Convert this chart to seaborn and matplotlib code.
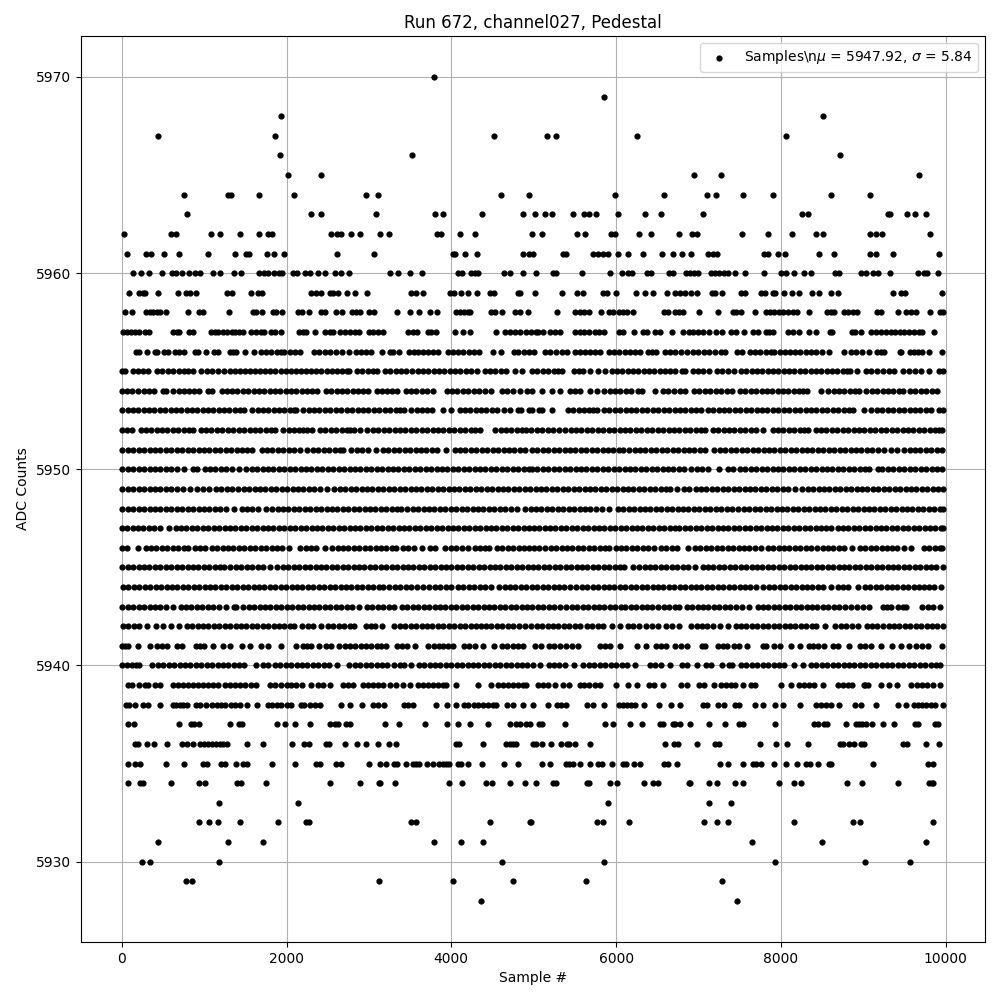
import pandas as pd
import seaborn as sns
from matplotlib import pyplot as plt

# x positions (sample #), one list per ADC level
s5970 = [3790]
s5969 = [5850]
s5968 = [1935, 8505]
s5967 = [444, 1862, 4517, 5160, 5273, 6250, 8056]
s5966 = [1923, 3523, 8723]
s5965 = [2020, 2420, 6941, 7269, 9680]
s5964 = [760, 1293, 1321, 1669, 2093, 2965, 3111, 4602, 4941, 5984, 6578, 7099, 7208, 7535, 7899, 8614, 9087]
s5963 = [796, 2299, 2420, 3087, 3802, 3899, 4371, 4868, 5014, 5135, 5220, 5475, 5616, 5669, 5754, 6020, 6347,
         6541, 7050, 8262, 8327, 9305, 9321, 9535, 9624, 9765]
s5962 = [32, 598, 654, 1087, 1196, 1438, 1669, 1778, 1830, 2541, 2618, 2666, 2784, 2893, 3135, 3244, 3826, 3874,
         4105, 4290, 4977, 5095, 5523, 5620, 5939, 5992, 6275, 6420, 6760, 6917, 6978, 7523, 7838, 8129, 8420,
         8517, 9087, 9160, 9224, 9814]
s5961 = [61, 299, 360, 517, 699, 1050, 1378, 1507, 1547, 1761, 1850, 1972, 2614, 3062, 4020, 4045, 4169, 4311,
         4868, 4949, 4990, 5354, 5386, 5717, 5778, 5838, 5899, 6020, 6141, 6323, 6553, 6687, 6796, 6913, 7119,
         7172, 7224, 7798, 7838, 7959, 8044, 8468, 8650, 9087, 9160, 9366, 9923]
s5960 = [141, 238, 335, 493, 606, 659, 727, 820, 885, 953, 1111, 1196, 1366, 1450, 1669, 1725, 1778, 1854, 1907,
         1951, 2081, 2129, 2226, 2283, 2384, 2468, 2590, 2662, 2759, 3256, 3357, 3499, 3644, 4080, 4129, 4242,
         4290, 4323, 4638, 4711, 4868, 5030, 5232, 5265, 5584, 5923, 6069, 6141, 6190, 6372, 6424, 6638, 6695,
         6848, 6897, 6949, 6994, 7147, 7204, 7244, 7313, 7361, 7438, 7559, 7790, 7996, 8056, 8153, 8283, 8363,
         8658, 8707, 8973, 9038, 9123, 9180, 9329, 9668, 9737, 9777, 9911]
s5959 = [93, 214, 263, 287, 444, 687, 780, 828, 905, 1281, 1333, 1572, 1652, 1701, 2299, 2355, 2420, 2525, 2565,
         2626, 2735, 2832, 2977, 3511, 3575, 3656, 3979, 4028, 4117, 4202, 4311, 4464, 4513, 4808, 4837, 5010,
         5349, 5523, 5600, 5838, 5891, 5996, 6238, 6347, 6444, 6614, 6711, 6775, 6836, 6913, 6986, 7159, 7200,
         7281, 7515, 7567, 7753, 7810, 7899, 7931, 8032, 8129, 8214, 8383, 8464, 8602, 8687, 9357, 9454, 9503, 9959]
s5958 = [44, 129, 295, 343, 384, 424, 465, 533, 808, 941, 982, 1305, 1596, 1628, 1705, 1838, 1870, 1947, 2145,
         2194, 2275, 2416, 2473, 2606, 2670, 2792, 2840, 2889, 3002, 3058, 3341, 3503, 3608, 3737, 3826, 4052,
         4101, 4149, 4198, 4230, 4484, 4533, 4614, 4771, 4828, 4929, 5281, 5507, 5556, 5616, 5669, 5814, 5911,
         5960, 6032, 6081, 6129, 6202, 6586, 6626, 6711, 6768, 6816, 7002, 7240, 7414, 7455, 7519, 7681, 7818,
         7867, 7919, 7972, 8020, 8081, 8141, 8190, 8347, 8557, 8606, 8646, 8768, 8820, 8869, 8929, 9172, 9212,
         9426, 9515, 9584, 9644, 9814, 9927, 9971]
s5957 = [12, 61, 109, 162, 214, 283, 335, 618, 675, 699, 820, 861, 1079, 1131, 1172, 1224, 1273, 1333, 1374, 1426,
         1466, 1572, 1628, 1685, 1729, 1814, 1866, 1935, 2153, 2202, 2242, 2347, 2468, 2525, 2565, 2654, 2707,
         2767, 2828, 2881, 3002, 3050, 3111, 3171, 3474, 3535, 3583, 3717, 3757, 3814, 4044, 4141, 4230, 4537,
         4650, 4707, 4767, 4828, 4901, 4973, 5030, 5051, 5112, 5200, 5253, 5322, 5503, 5556, 5616, 5677, 5738,
         5798, 5859, 6040, 6089, 6214, 6331, 6372, 6473, 6533, 6675, 6816, 6881, 6937, 6990, 7050, 7123, 7212,
         7285, 7398, 7454, 7548, 7657, 7717, 7818, 7859, 7899, 8081, 8141, 8214, 8343, 8424, 8598, 8618, 8861,
         8901, 8978, 9099, 9152, 9212, 9273, 9333, 9382, 9442, 9495, 9556, 9616, 9677, 9717, 9863]
s5956 = [170, 214, 311, 400, 428, 517, 565, 646, 700, 760, 885, 921, 1018, 1119, 1172, 1309, 1350, 1386, 1499, 1602,
         1693, 1755, 1815, 1880, 1935, 1972, 2048, 2105, 2162, 2339, 2400, 2465, 2530, 2600, 2679, 2753, 2844, 2905,
         2965, 3022, 3155, 3252, 3296, 3365, 3483, 3545, 3600, 3660, 3720, 3780, 3838, 3955, 4020, 4085, 4145, 4210,
         4270, 4335, 4509, 4598, 4755, 4815, 4880, 4940, 5002, 5140, 5200, 5265, 5340, 5407, 5503, 5565, 5625, 5685,
         5745, 5803, 5915, 5975, 6040, 6105, 6170, 6235, 6295, 6392, 6430, 6489, 6594, 6655, 6720, 6790, 6860, 6930,
         7000, 7065, 7124, 7204, 7273, 7317, 7471, 7529, 7624, 7690, 7750, 7820, 7880, 7911, 7988, 8050, 8110, 8175,
         8235, 8300, 8365, 8430, 8495, 8578, 8760, 8848, 8910, 8982, 9071, 9172, 9215, 9257, 9440, 9458, 9564, 9620,
         9660, 9717, 9798, 9960]
s5955 = [0, 40, 137, 200, 260, 323, 432, 495, 560, 625, 690, 755, 800, 860, 957, 1030, 1100, 1163, 1236, 1309, 1370,
         1432, 1494, 1556, 1618, 1680, 1742, 1804, 1866, 1928, 1990, 2052, 2114, 2176, 2238, 2300, 2362, 2424, 2486,
         2548, 2610, 2672, 2734, 2759, 2856, 2920, 2985, 3045, 3103, 3192, 3260, 3325, 3390, 3455, 3520, 3590, 3655,
         3720, 3785, 3850, 3915, 3980, 4045, 4110, 4175, 4240, 4307, 4404, 4470, 4530, 4600, 4658, 4775, 4860, 4978,
         5045, 5110, 5175, 5245, 5300, 5346, 5495, 5550, 5601, 5685, 5778, 5863, 5947, 6010, 6075, 6140, 6205, 6270,
         6335, 6400, 6465, 6530, 6595, 6660, 6720, 6804, 6841, 6933, 7000, 7060, 7124, 7220, 7290, 7360, 7435, 7515,
         7580, 7645, 7710, 7775, 7840, 7905, 7970, 8035, 8100, 8165, 8230, 8295, 8360, 8425, 8490, 8555, 8620, 8685,
         8750, 8800, 8841, 8921, 9038, 9099, 9170, 9240, 9310, 9378, 9483, 9550, 9625, 9697, 9802, 9915, 9964]
s5954 = [0, 65, 130, 200, 265, 330, 396, 501, 537, 626, 690, 750, 815, 880, 941, 1050, 1091, 1212, 1275, 1340, 1405,
         1470, 1535, 1600, 1665, 1730, 1795, 1860, 1925, 1990, 2055, 2120, 2185, 2250, 2315, 2375, 2481, 2545, 2610,
         2675, 2740, 2805, 2870, 2930, 2990, 3103, 3165, 3225, 3285, 3345, 3450, 3510, 3575, 3640, 3700, 3777, 3947,
         4010, 4075, 4140, 4205, 4270, 4340, 4410, 4476, 4614, 4680, 4751, 4836, 4913, 4982, 5100, 5221, 5322, 5443,
         5500, 5560, 5685, 5770, 5855, 5920, 5985, 6050, 6115, 6180, 6263, 6316, 6473, 6566, 6635, 6705, 6775, 6841,
         6946, 7012, 7078, 7144, 7210, 7276, 7340, 7406, 7503, 7570, 7635, 7700, 7765, 7830, 7895, 7960, 8025, 8090,
         8155, 8220, 8270, 8315, 8485, 8574, 8640, 8705, 8770, 8835, 8900, 8942, 9038, 9105, 9170, 9235, 9300, 9365,
         9430, 9487, 9564, 9630, 9695, 9760, 9830, 9899]
s5953 = [8, 73, 138, 203, 268, 333, 398, 463, 528, 593, 658, 723, 788, 853, 918, 983, 1048, 1113, 1178, 1243, 1308,
         1373, 1438, 1487, 1584, 1650, 1715, 1780, 1845, 1910, 1975, 2040, 2090, 2121, 2202, 2268, 2334, 2400, 2466,
         2532, 2598, 2664, 2730, 2796, 2862, 2928, 2994, 3060, 3126, 3192, 3258, 3324, 3375, 3426, 3515, 3580, 3645,
         3710, 3769, 3899, 3991, 4101, 4165, 4230, 4295, 4360, 4425, 4490, 4560, 4638, 4711, 4808, 4848, 4937, 4982,
         5067, 5104, 5225, 5415, 5480, 5545, 5610, 5675, 5720, 5770, 5851, 5917, 5983, 6049, 6115, 6181, 6247, 6313,
         6379, 6445, 6511, 6577, 6643, 6709, 6775, 6841, 6907, 6973, 7031, 7111, 7177, 7243, 7309, 7375, 7441, 7507,
         7573, 7639, 7705, 7771, 7837, 7903, 7969, 8035, 8101, 8167, 8233, 8299, 8365, 8431, 8497, 8563, 8629, 8695,
         8761, 8827, 8881, 9006, 9099, 9165, 9231, 9297, 9363, 9429, 9495, 9561, 9627, 9693, 9759, 9818, 9915, 9972]
s5952 = [0, 60, 125, 230, 295, 360, 425, 490, 555, 620, 685, 750, 815, 869, 957, 1023, 1089, 1155, 1221, 1287, 1353,
         1419, 1485, 1551, 1617, 1683, 1749, 1815, 1862, 1959, 2025, 2090, 2155, 2205, 2250, 2315, 2404, 2470, 2536,
         2602, 2668, 2734, 2775, 2820, 2897, 2981, 3047, 3113, 3179, 3245, 3311, 3377, 3443, 3509, 3575, 3641, 3707,
         3773, 3839, 3905, 3971, 4037, 4103, 4169, 4235, 4290, 4343, 4533, 4600, 4665, 4730, 4795, 4860, 4910, 4966,
         5039, 5105, 5170, 5240, 5305, 5382, 5448, 5514, 5580, 5646, 5712, 5778, 5844, 5910, 5976, 6042, 6108, 6174,
         6240, 6306, 6372, 6438, 6504, 6570, 6636, 6702, 6768, 6834, 6900, 6966, 7032, 7075, 7172, 7238, 7304, 7370,
         7436, 7502, 7568, 7634, 7700, 7782, 7899, 7965, 8031, 8097, 8163, 8229, 8280, 8327, 8420, 8486, 8552, 8618,
         8684, 8750, 8816, 8882, 8948, 9014, 9080, 9146, 9212, 9278, 9344, 9410, 9476, 9542, 9608, 9674, 9740, 9806,
         9872, 9915, 9952]
s5951 = [8, 74, 140, 206, 272, 338, 404, 470, 536, 602, 668, 734, 800, 866, 932, 998, 1064, 1130, 1196, 1262, 1328,
         1394, 1460, 1526, 1576, 1697, 1763, 1829, 1895, 1961, 2027, 2093, 2166, 2254, 2320, 2386, 2452, 2518, 2584,
         2650, 2687, 2788, 2854, 2920, 2986, 3083, 3171, 3237, 3303, 3369, 3435, 3501, 3567, 3633, 3699, 3765, 3831,
         3931, 4040, 4106, 4172, 4238, 4304, 4370, 4436, 4502, 4568, 4634, 4700, 4766, 4832, 4898, 4978, 5044, 5110,
         5176, 5242, 5308, 5374, 5440, 5506, 5572, 5638, 5704, 5770, 5836, 5902, 5968, 6034, 6085, 6158, 6224, 6290,
         6356, 6422, 6488, 6554, 6620, 6686, 6752, 6818, 6884, 6950, 7016, 7082, 7184, 7261, 7327, 7393, 7459, 7525,
         7591, 7657, 7723, 7789, 7855, 7921, 7987, 8053, 8119, 8185, 8251, 8317, 8383, 8449, 8515, 8581, 8647, 8713,
         8779, 8845, 8911, 8977, 9043, 9109, 9175, 9253, 9333, 9415, 9495, 9561, 9627, 9693, 9759, 9825, 9891, 9952]
s5950 = [8, 74, 140, 206, 272, 338, 404, 470, 536, 602, 668, 760, 864, 909, 1006, 1072, 1138, 1204, 1270, 1336, 1426,
         1511, 1577, 1643, 1709, 1775, 1841, 1907, 1973, 2039, 2105, 2171, 2237, 2303, 2369, 2435, 2501, 2567, 2633,
         2699, 2765, 2831, 2897, 2963, 3029, 3095, 3161, 3227, 3293, 3359, 3425, 3491, 3557, 3623, 3689, 3755, 3821,
         3887, 3953, 4019, 4085, 4151, 4217, 4283, 4349, 4415, 4481, 4547, 4613, 4679, 4745, 4811, 4877, 4943, 4980,
         5046, 5112, 5178, 5244, 5310, 5376, 5442, 5508, 5574, 5640, 5706, 5772, 5838, 5904, 5970, 6036, 6102, 6168,
         6234, 6300, 6366, 6432, 6498, 6564, 6630, 6696, 6762, 6828, 6910, 6978, 7044, 7110, 7253, 7361, 7419, 7503,
         7569, 7635, 7701, 7767, 7833, 7899, 7965, 8031, 8097, 8163, 8229, 8295, 8361, 8427, 8493, 8559, 8625, 8691,
         8757, 8823, 8889, 8955, 9021, 9075, 9180, 9225, 9300, 9366, 9432, 9498, 9564, 9630, 9696, 9762, 9828, 9894,
         9952]
s5949 = [8, 74, 140, 206, 272, 338, 404, 470, 536, 602, 668, 740, 832, 917, 990, 1063, 1140, 1206, 1272, 1337, 1414,
         1480, 1546, 1612, 1678, 1744, 1810, 1876, 1942, 2008, 2074, 2140, 2206, 2272, 2338, 2404, 2497, 2581, 2647,
         2713, 2779, 2845, 2911, 2977, 3043, 3109, 3175, 3241, 3307, 3373, 3439, 3505, 3571, 3637, 3703, 3769, 3835,
         3901, 3967, 4033, 4099, 4165, 4231, 4297, 4363, 4429, 4495, 4561, 4627, 4693, 4759, 4825, 4891, 4957, 5023,
         5089, 5155, 5221, 5287, 5353, 5419, 5485, 5551, 5617, 5683, 5749, 5815, 5881, 5947, 6013, 6079, 6145, 6211,
         6277, 6343, 6409, 6475, 6541, 6600, 6651, 6743, 6820, 6889, 6965, 7031, 7097, 7163, 7229, 7295, 7361, 7427,
         7493, 7559, 7625, 7691, 7757, 7823, 7889, 7955, 8021, 8087, 8174, 8259, 8325, 8391, 8457, 8523, 8589, 8655,
         8721, 8787, 8853, 8919, 8985, 9051, 9117, 9183, 9249, 9315, 9381, 9447, 9513, 9579, 9645, 9711, 9777, 9843,
         9909, 9972]
s5948 = [8, 74, 140, 206, 272, 338, 404, 470, 536, 602, 668, 734, 800, 866, 932, 998, 1064, 1130, 1196, 1262, 1358,
         1454, 1520, 1586, 1652, 1750, 1826, 1892, 1958, 2024, 2090, 2156, 2222, 2288, 2354, 2420, 2486, 2552, 2618,
         2684, 2750, 2816, 2882, 2948, 3014, 3080, 3146, 3212, 3278, 3344, 3394, 3466, 3532, 3598, 3664, 3730, 3796,
         3862, 3928, 3994, 4060, 4126, 4192, 4258, 4324, 4390, 4456, 4522, 4588, 4654, 4720, 4798, 4896, 4962, 5028,
         5094, 5160, 5226, 5292, 5358, 5424, 5490, 5556, 5622, 5688, 5754, 5831, 5912, 6020, 6086, 6152, 6218, 6284,
         6350, 6416, 6482, 6548, 6614, 6680, 6746, 6812, 6878, 6944, 7010, 7076, 7142, 7208, 7274, 7340, 7406, 7475,
         7551, 7617, 7683, 7749, 7815, 7881, 7947, 8013, 8079, 8145, 8211, 8277, 8343, 8409, 8475, 8541, 8607, 8673,
         8739, 8805, 8871, 8937, 9003, 9069, 9135, 9201, 9267, 9333, 9399, 9465, 9531, 9597, 9663, 9729, 9795, 9861,
         9927, 9964]
s5947 = [0, 66, 132, 198, 264, 330, 396, 462, 578, 654, 720, 786, 852, 918, 984, 1050, 1116, 1182, 1248, 1314, 1380,
         1446, 1512, 1578, 1644, 1710, 1776, 1842, 1908, 1974, 2040, 2106, 2172, 2238, 2304, 2370, 2436, 2502, 2568,
         2634, 2700, 2766, 2832, 2898, 2964, 3030, 3096, 3162, 3228, 3294, 3360, 3426, 3492, 3558, 3624, 3690, 3756,
         3822, 3888, 3954, 4020, 4086, 4152, 4218, 4284, 4350, 4416, 4482, 4548, 4614, 4680, 4746, 4812, 4878, 4944,
         5000, 5066, 5132, 5198, 5264, 5330, 5396, 5462, 5528, 5594, 5660, 5726, 5792, 5858, 5924, 5990, 6056, 6122,
         6188, 6254, 6320, 6386, 6452, 6518, 6584, 6650, 6716, 6760, 6836, 6902, 6968, 7034, 7100, 7166, 7232, 7298,
         7364, 7430, 7496, 7562, 7628, 7694, 7760, 7826, 7892, 7958, 8024, 8090, 8156, 8222, 8288, 8354, 8420, 8486,
         8552, 8606, 8687, 8753, 8819, 8885, 8951, 9017, 9083, 9149, 9215, 9281, 9347, 9413, 9479, 9545, 9611, 9677,
         9743, 9809, 9875, 9941, 9972]
s5946 = [8, 70, 202, 290, 356, 422, 488, 554, 620, 686, 752, 808, 889, 950, 1010, 1095, 1160, 1225, 1290, 1345, 1422,
         1488, 1554, 1620, 1686, 1752, 1818, 1884, 1950, 2036, 2165, 2231, 2297, 2363, 2465, 2553, 2619, 2685, 2751,
         2817, 2883, 2949, 3015, 3081, 3147, 3213, 3279, 3325, 3413, 3479, 3545, 3650, 3736, 3800, 3923, 4000, 4060,
         4130, 4200, 4285, 4350, 4410, 4460, 4553, 4619, 4685, 4751, 4817, 4883, 4949, 5005, 5063, 5140, 5206, 5272,
         5338, 5404, 5470, 5536, 5602, 5668, 5734, 5800, 5866, 5912, 5994, 6060, 6126, 6192, 6258, 6324, 6390, 6465,
         6545, 6611, 6677, 6743, 6873, 6958, 7024, 7090, 7156, 7222, 7288, 7354, 7420, 7486, 7552, 7618, 7684, 7762,
         7839, 7905, 7971, 8037, 8103, 8169, 8235, 8301, 8364, 8440, 8506, 8572, 8638, 8704, 8768, 8857, 8957, 9023,
         9089, 9155, 9221, 9287, 9353, 9415, 9495, 9575, 9737, 9803, 9869, 9935, 9960]
s5945 = [0, 73, 139, 205, 271, 337, 403, 469, 535, 601, 667, 733, 799, 865, 931, 997, 1063, 1129, 1195, 1236, 1320,
         1386, 1452, 1518, 1584, 1650, 1709, 1794, 1890, 1956, 2022, 2088, 2154, 2220, 2286, 2352, 2418, 2484, 2550,
         2616, 2682, 2748, 2814, 2880, 2946, 3012, 3078, 3144, 3210, 3276, 3342, 3408, 3474, 3540, 3606, 3672, 3738,
         3804, 3870, 3936, 4002, 4068, 4134, 4200, 4266, 4332, 4398, 4464, 4530, 4596, 4662, 4728, 4794, 4860, 4926,
         4992, 5058, 5124, 5190, 5256, 5322, 5388, 5454, 5520, 5586, 5652, 5718, 5784, 5850, 5916, 5982, 6048, 6094,
         6202, 6279, 6345, 6411, 6477, 6543, 6609, 6675, 6741, 6807, 6873, 6954, 7050, 7116, 7182, 7248, 7314, 7380,
         7446, 7512, 7578, 7644, 7710, 7776, 7842, 7908, 7974, 8040, 8106, 8172, 8238, 8304, 8370, 8436, 8502, 8568,
         8634, 8700, 8766, 8832, 8898, 8964, 9030, 9096, 9162, 9228, 9294, 9360, 9426, 9492, 9558, 9624, 9690, 9756,
         9822, 9888, 9964]
s5944 = [16, 82, 148, 214, 280, 346, 412, 478, 544, 610, 676, 742, 808, 874, 940, 1006, 1072, 1138, 1204, 1270, 1336,
         1402, 1468, 1534, 1600, 1666, 1732, 1798, 1864, 1930, 1996, 2062, 2128, 2194, 2260, 2326, 2392, 2458, 2524,
         2590, 2656, 2722, 2788, 2854, 2920, 2986, 3052, 3118, 3175, 3248, 3314, 3380, 3446, 3512, 3578, 3660, 3733,
         3799, 3865, 3931, 3999, 4080, 4146, 4212, 4278, 4344, 4410, 4476, 4581, 4647, 4713, 4779, 4845, 4911, 4977,
         5043, 5109, 5175, 5241, 5307, 5373, 5439, 5516, 5584, 5650, 5716, 5782, 5848, 5914, 5980, 6046, 6112, 6178,
         6244, 6310, 6376, 6442, 6508, 6574, 6640, 6706, 6772, 6838, 6904, 6970, 7036, 7102, 7168, 7234, 7300, 7366,
         7432, 7498, 7564, 7630, 7696, 7782, 7855, 7921, 7987, 8053, 8119, 8185, 8251, 8317, 8383, 8449, 8515, 8606,
         8687, 8753, 8819, 8930, 9018, 9084, 9150, 9216, 9282, 9348, 9414, 9480, 9546, 9612, 9678, 9737, 9797, 9863,
         9940]
s5943 = [8, 74, 140, 206, 272, 338, 404, 470, 536, 618, 715, 781, 847, 913, 979, 1045, 1111, 1177, 1265, 1357, 1386,
         1475, 1541, 1607, 1673, 1739, 1805, 1871, 1937, 2003, 2069, 2135, 2201, 2267, 2333, 2399, 2465, 2531, 2597,
         2663, 2729, 2795, 2880, 2977, 3043, 3109, 3175, 3241, 3305, 3401, 3467, 3533, 3599, 3665, 3731, 3797, 3863,
         3929, 3995, 4061, 4127, 4193, 4259, 4325, 4391, 4457, 4523, 4589, 4655, 4721, 4787, 4853, 4919, 4985, 5051,
         5117, 5183, 5249, 5315, 5395, 5463, 5529, 5595, 5661, 5727, 5793, 5859, 5925, 5991, 6057, 6102, 6178, 6244,
         6310, 6376, 6437, 6513, 6579, 6645, 6711, 6760, 6857, 6923, 6989, 7055, 7121, 7187, 7253, 7319, 7385, 7451,
         7528, 7608, 7717, 7783, 7849, 7915, 7981, 8047, 8113, 8179, 8245, 8311, 8377, 8443, 8509, 8575, 8641, 8707,
         8773, 8848, 8925, 8991, 9075, 9236, 9290, 9338, 9422, 9480, 9520, 9717, 9783, 9849, 9932]
s5942 = [16, 82, 148, 214, 307, 420, 497, 603, 700, 788, 854, 920, 986, 1052, 1118, 1184, 1250, 1316, 1382, 1448, 1514,
         1580, 1646, 1712, 1778, 1844, 1910, 1972, 2048, 2093, 2190, 2256, 2322, 2424, 2501, 2567, 2633, 2699, 2765,
         2820, 2965, 3020, 3070, 3155, 3309, 3375, 3441, 3507, 3573, 3639, 3705, 3771, 3837, 3903, 3969, 4035, 4101,
         4167, 4233, 4299, 4355, 4420, 4486, 4552, 4618, 4684, 4750, 4816, 4900, 4970, 5036, 5102, 5168, 5234, 5300,
         5366, 5432, 5498, 5556, 5645, 5711, 5777, 5843, 5952, 6045, 6141, 6207, 6275, 6364, 6430, 6510, 6606, 6680,
         6764, 6910, 6976, 7042, 7108, 7174, 7257, 7354, 7450, 7516, 7582, 7648, 7714, 7780, 7846, 7912, 7978, 8044,
         8110, 8176, 8242, 8308, 8374, 8421, 8541, 8662, 8728, 8794, 8860, 8930, 9050, 9110, 9164, 9240, 9306, 9372,
         9438, 9504, 9570, 9636, 9702, 9768, 9834, 9900, 9964]
s5941 = [0, 40, 81, 202, 343, 432, 495, 545, 675, 727, 897, 950, 1002, 1111, 1228, 1317, 1462, 1560, 1693, 1778, 1931,
         2113, 2202, 2250, 2295, 2400, 2480, 2537, 2642, 2705, 2770, 2835, 2900, 2965, 3030, 3095, 3150, 3204, 3341,
         3400, 3466, 3563, 3713, 3785, 3845, 3905, 3965, 4024, 4157, 4220, 4282, 4383, 4513, 4614, 4680, 4745, 4810,
         4872, 5011, 5091, 5180, 5250, 5320, 5390, 5465, 5540, 5810, 5871, 5932, 6049, 6251, 6360, 6485, 6546, 6606,
         6716, 6786, 6861, 7039, 7083, 7233, 7293, 7346, 7427, 7495, 7588, 7778, 7818, 7915, 7988, 8121, 8230, 8340,
         8392, 8445, 8529, 8638, 8687, 8832, 8954, 9022, 9095, 9220, 9354, 9455, 9552, 9636, 9717, 9790, 9952]
s5940 = [8, 70, 130, 170, 214, 372, 438, 504, 570, 636, 702, 768, 834, 900, 966, 1032, 1098, 1164, 1230, 1296, 1362,
         1428, 1487, 1624, 1717, 1770, 1858, 1924, 1990, 2056, 2122, 2188, 2254, 2320, 2386, 2452, 2518, 2618, 2763,
         2829, 2895, 2961, 3027, 3093, 3159, 3225, 3305, 3381, 3426, 3515, 3604, 3670, 3736, 3802, 3868, 3934, 4000,
         4066, 4132, 4198, 4264, 4330, 4396, 4462, 4528, 4594, 4660, 4726, 4792, 4858, 4924, 4990, 5075, 5180, 5246,
         5312, 5378, 5487, 5604, 5670, 5736, 5802, 5868, 5934, 6000, 6066, 6132, 6235, 6412, 6478, 6544, 6659, 6796,
         6860, 6982, 7087, 7150, 7285, 7370, 7406, 7515, 7581, 7647, 7713, 7779, 7845, 7911, 7977, 8043, 8153, 8263,
         8364, 8430, 8496, 8562, 8628, 8694, 8760, 8826, 8892, 8958, 9024, 9090, 9156, 9222, 9288, 9354, 9420, 9486,
         9552, 9618, 9684, 9750, 9816, 9882, 9931]
s5939 = [81, 129, 210, 283, 323, 404, 465, 618, 687, 747, 808, 869, 929, 990, 1050, 1111, 1172, 1252, 1313, 1374,
         1434, 1499, 1572, 1628, 1798, 1858, 1939, 2000, 2060, 2121, 2194, 2303, 2384, 2444, 2525, 2687, 2747, 2808,
         2929, 2990, 3050, 3111, 3171, 3252, 3333, 3414, 3503, 3596, 3656, 3717, 3777, 3838, 3899, 3939, 4052, 4323,
         4484, 4565, 4626, 4686, 4747, 4808, 4868, 4909, 5050, 5111, 5172, 5253, 5354, 5426, 5556, 5616, 5677, 5738,
         5806, 6000, 6141, 6250, 6404, 6465, 6566, 6788, 6856, 7010, 7070, 7192, 7273, 7334, 7394, 7446, 7535, 7632,
         7689, 8000, 8121, 8222, 8283, 8343, 8404, 8513, 8687, 8755, 8820, 8868, 9005, 9022, 9062, 9212, 9313, 9410,
         9579, 9656, 9717, 9778, 9846, 9927]
s5938 = [48, 93, 162, 263, 323, 469, 618, 659, 707, 747, 796, 901, 950, 1023, 1091, 1152, 1204, 1252, 1329, 1378,
         1434, 1515, 1640, 1778, 1818, 1879, 1939, 2000, 2060, 2178, 2218, 2283, 2343, 2404, 2658, 2767, 2917, 3050,
         3115, 3180, 3426, 3474, 3535, 3810, 3947, 4060, 4149, 4198, 4270, 4323, 4383, 4444, 4505, 4545, 4675, 4747,
         4868, 4989, 5168, 5281, 5334, 5394, 5644, 5717, 5851, 6032, 6081, 6129, 6182, 6230, 6335, 6525, 6663, 6772,
         7050, 7103, 7232, 7313, 7446, 7487, 7685, 7778, 7931, 8020, 8226, 8424, 8485, 8546, 8606, 8707, 8901, 8969,
         9159, 9426, 9515, 9616, 9668, 9717, 9757, 9818, 9870, 9971]
s5937 = [81, 154, 699, 836, 877, 941, 1317, 1426, 1458, 1887, 1984, 2105, 2287, 2525, 2586, 2626, 2727, 2767, 3196,
         3365, 3680, 3947, 4080, 4226, 4444, 4715, 4787, 4828, 4909, 4950, 5062, 5099, 5374, 5863, 5960, 6174, 6311,
         6533, 6574, 6687, 6720, 6776, 6893, 7123, 7317, 7495, 7535, 7923, 8396, 8448, 8525, 8561, 8796, 8909, 8950,
         8990, 9030, 9111, 9236, 9377, 9628, 9668, 9870, 9911]
s5936 = [162, 194, 311, 392, 553, 735, 788, 869, 949, 998, 1050, 1099, 1147, 1196, 1232, 1277, 1523, 1717, 2068,
         2214, 2270, 2477, 2513, 2711, 2856, 2965, 3111, 3244, 3329, 4060, 4093, 4383, 4658, 4707, 4747, 4787, 4989,
         5030, 5099, 5212, 5329, 5402, 5434, 5499, 5681, 6590, 6703, 6755, 6978, 7196, 7252, 7741, 7935, 8068, 8323,
         8719, 8755, 8828, 8889, 8973, 9010, 9482, 9535, 9765, 9915]
s5935 = [81, 162, 226, 541, 760, 990, 1038, 1200, 1248, 1390, 1466, 1515, 1826, 2105, 2363, 2404, 2598, 2666, 3002,
         3131, 3208, 3309, 3341, 3450, 3535, 3572, 3608, 3705, 3777, 3850, 3899, 3939, 3971, 4080, 4121, 4198, 4371,
         4634, 4804, 5099, 5196, 5386, 5434, 5483, 5560, 5681, 5778, 5830, 5952, 6081, 6121, 6214, 6291, 6582, 6626,
         6735, 7256, 7353, 7535, 7656, 7697, 7757, 7911, 8056, 8194, 8303, 8355, 8456, 8578, 8610, 9123, 9790, 9846]
s5934 = [81, 222, 255, 602, 941, 1014, 1394, 1450, 1753, 2529, 2893, 3123, 3139, 3317, 3971, 4129, 4420, 4493, 4711,
         4892, 5026, 5240, 5273, 5644, 5677, 5923, 6008, 6335, 6444, 6509, 6881, 6897, 7123, 7220, 7438, 7535, 7972,
         8153, 8250, 8808, 8990, 9426, 9798, 9830, 9851]
s5933 = [1184, 2141, 5899, 7123, 7390]
s5932 = [933, 1063, 1172, 1438, 1899, 2242, 2275, 3515, 3567, 4468, 4961, 4970, 5766, 5846, 6153, 7063, 7220, 7357,
         8153, 8881, 8954, 9842]
s5931 = [444, 1293, 1717, 3790, 4117, 4383, 7644, 8493, 9765]
s5930 = [250, 339, 1184, 4614, 5851, 7923, 9026, 9571]
s5929 = [784, 848, 3123, 4020, 4747, 5632, 7281]
s5928 = [4359, 7462]

levels = list(range(5970, 5927, -1))
samples = [s5970, s5969, s5968, s5967, s5966, s5965, s5964, s5963, s5962, s5961, s5960, s5959, s5958, s5957, s5956,
           s5955, s5954, s5953, s5952, s5951, s5950, s5949, s5948, s5947, s5946, s5945, s5944, s5943, s5942, s5941,
           s5940, s5939, s5938, s5937, s5936, s5935, s5934, s5933, s5932, s5931, s5930, s5929, s5928]

rows = []
for level, xs in zip(levels, samples):
    rows += [(x, level) for x in xs]
df = pd.DataFrame(rows, columns=['sample', 'adc'])

plt.figure(figsize=(10, 10), dpi=100)
ax = plt.subplot()
sns.scatterplot(data=df, x='sample', y='adc', color='k', s=12, marker='o', linewidth=1, edgecolor='k',
                label='Samples\\n$\\mu$ = 5947.92, $\\sigma$ = 5.84', ax=ax)
ax.set_xlim(-494, 10477)
ax.set_ylim(5925.9, 5972.09)
ax.set_axisbelow(True)
ax.grid(True)
ax.set_xlabel('Sample #')
ax.set_ylabel('ADC Counts')
ax.set_title('Run 672, channel027, Pedestal')
ax.legend(loc='upper right')
plt.subplots_adjust(left=0.081, right=0.985, top=0.964, bottom=0.058)
plt.savefig('out.png')
